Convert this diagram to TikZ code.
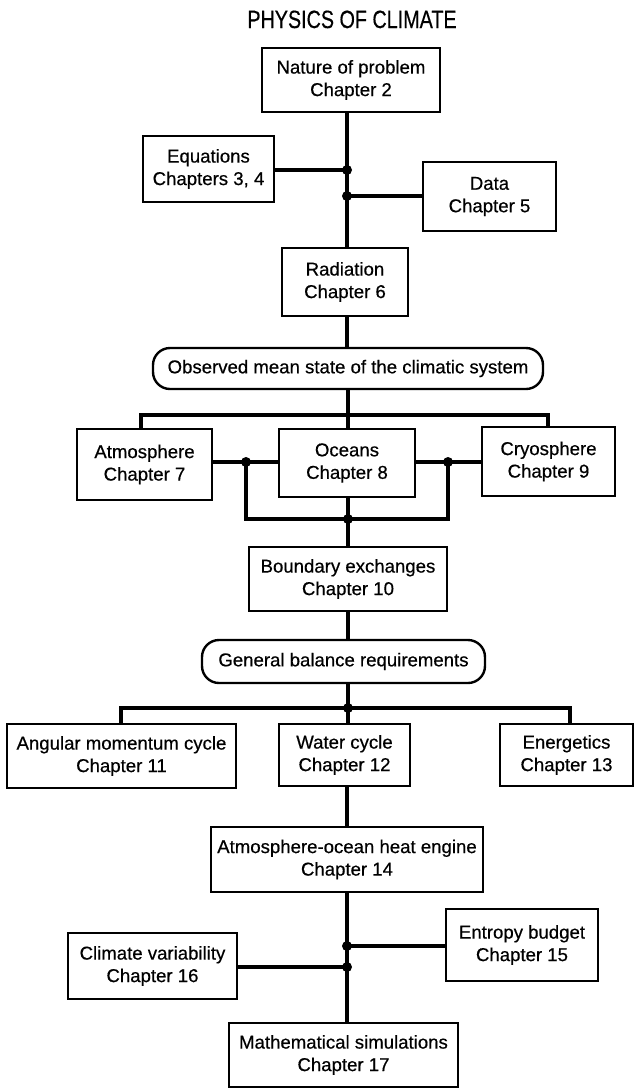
\documentclass[tikz,border=0pt]{standalone}
\usepackage{fontspec}
\setmainfont{Liberation Sans}[FakeBold=0.5]
\usepackage{graphicx}
\newcommand\boxfont{\fontsize{18.6}{22.5}\selectfont}
\newcommand\titlefont{\fontsize{25}{25}\selectfont}
\tikzset{
  chapbox/.style={draw, line width=2.4pt, rectangle, inner sep=0pt,
                  align=center, font=\boxfont},
  pill/.style={draw, line width=2.4pt, rectangle, rounded corners=17pt,
               inner sep=0pt, align=center, font=\boxfont},
  link/.style={line width=3.2pt, line join=miter},
  junction/.style={fill=black}
}
\begin{document}
\begin{tikzpicture}[x=1pt, y=-1pt]
\useasboundingbox (0,0) rectangle (634,1088);

% title
\node[anchor=base, inner sep=0pt] (title) at (352,28)
  {\titlefont\scalebox{0.79}[1]{PHYSICS OF CLIMATE}};

% chapter boxes
\node[chapbox, minimum width=178pt, minimum height=64pt] (nature) at (351,80)
  {Nature of problem\\Chapter 2};
\node[chapbox, minimum width=131pt, minimum height=66pt] (eqs) at (208.5,169)
  {Equations\\Chapters 3, 4};
\node[chapbox, minimum width=133pt, minimum height=69pt] (data) at (489.5,196.5)
  {Data\\Chapter 5};
\node[chapbox, minimum width=126pt, minimum height=68pt] (rad) at (345,282)
  {Radiation\\Chapter 6};
\node[pill, minimum width=390pt, minimum height=41pt] (obs) at (348,368.5)
  {Observed mean state of the climatic system};
\node[chapbox, minimum width=135pt, minimum height=71pt] (atm) at (144.5,464.5)
  {Atmosphere\\Chapter 7};
\node[chapbox, minimum width=136pt, minimum height=68pt] (oce) at (347,463)
  {Oceans\\Chapter 8};
\node[chapbox, minimum width=133pt, minimum height=69pt] (cryo) at (548.5,461.5)
  {Cryosphere\\Chapter 9};
\node[chapbox, minimum width=198pt, minimum height=64pt] (bound) at (348,579)
  {Boundary exchanges\\Chapter 10};
\node[pill, minimum width=283pt, minimum height=43pt] (gbal) at (343.5,661.5)
  {General balance requirements};
\node[chapbox, minimum width=229pt, minimum height=64pt] (ang) at (121.5,756)
  {Angular momentum cycle\\Chapter 11};
\node[chapbox, minimum width=131pt, minimum height=62pt] (water) at (344.5,755)
  {Water cycle\\Chapter 12};
\node[chapbox, minimum width=133pt, minimum height=62pt] (ener) at (566.5,755)
  {Energetics\\Chapter 13};
\node[chapbox, minimum width=272pt, minimum height=65pt] (heat) at (347,859.5)
  {Atmosphere-ocean heat engine\\Chapter 14};
\node[chapbox, minimum width=152pt, minimum height=72pt] (entropy) at (522,945)
  {Entropy budget\\Chapter 15};
\node[chapbox, minimum width=169pt, minimum height=66pt] (climvar) at (152.5,966)
  {Climate variability\\Chapter 16};
\node[chapbox, minimum width=229pt, minimum height=64pt] (math) at (343.5,1055)
  {Mathematical simulations\\Chapter 17};

% junction points
\coordinate (j1) at (347,170);
\coordinate (j2) at (347,196);
\coordinate (t1) at (348,415);
\coordinate (aL) at (141,415);
\coordinate (cR) at (548,415);
\coordinate (dL) at (246,462);
\coordinate (dR) at (448,462);
\coordinate (dC) at (348,519);
\coordinate (g1) at (348,708);
\coordinate (gL) at (121,708);
\coordinate (gR) at (570,708);
\coordinate (k1) at (347,946);
\coordinate (k2) at (347,967);

% connectors
\draw[link] (nature.south -| j1) -- (j1) -- (j2) -- (rad.north -| j2);
\draw[link] (eqs.east |- j1) -- (j1);
\draw[link] (j2) -- (data.west |- j2);
\draw[link] (rad.south -| j2) -- (obs.north -| j2);
\draw[link] (obs.south -| t1) -- (t1) -- (oce.north -| t1);
\draw[link] (atm.north -| aL) -- (aL) -- (cR) -- (cryo.north -| cR);
\draw[link] (atm.east |- dL) -- (dL) -- (oce.west |- dL);
\draw[link] (oce.east |- dR) -- (dR) -- (cryo.west |- dR);
\draw[link] (dL) -- (dL |- dC) -- (dR |- dC) -- (dR);
\draw[link] (oce.south -| dC) -- (dC) -- (bound.north -| dC);
\draw[link] (bound.south -| dC) -- (gbal.north -| dC);
\draw[link] (gbal.south -| g1) -- (g1) -- (water.north -| g1);
\draw[link] (ang.north -| gL) -- (gL) -- (gR) -- (ener.north -| gR);
\draw[link] (water.south -| k1) -- (heat.north -| k1);
\draw[link] (heat.south -| k1) -- (k1) -- (k2) -- (math.north -| k1);
\draw[link] (k1) -- (entropy.west |- k1);
\draw[link] (climvar.east |- k2) -- (k2);

% junction dots
\foreach \p in {j1,j2,dL,dR,dC,g1,k1,k2}
  \fill[junction] (\p) circle (5pt);
\end{tikzpicture}
\end{document}
